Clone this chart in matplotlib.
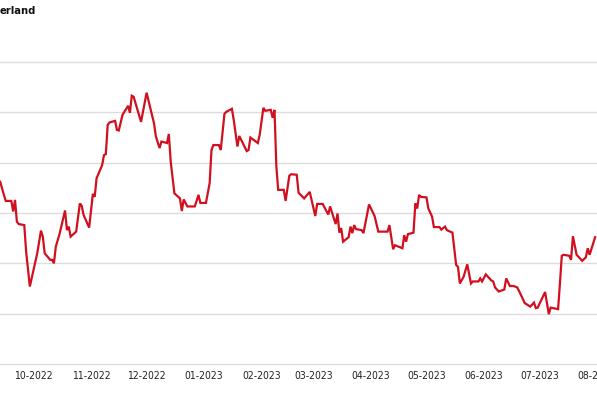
import matplotlib
matplotlib.use("Agg")
import matplotlib.pyplot as plt
import matplotlib.dates as mdates
import pandas as pd

# daily values (no y labels visible, gridlines at 0..6)
dates = [
    "2022-09-13", "2022-09-15", "2022-09-16", "2022-09-19", "2022-09-20", "2022-09-21",
    "2022-09-22", "2022-09-23", "2022-09-26", "2022-09-27", "2022-09-29",
    "2022-10-03", "2022-10-05", "2022-10-06", "2022-10-07", "2022-10-10", "2022-10-11",
    "2022-10-12", "2022-10-13", "2022-10-15", "2022-10-18", "2022-10-19", "2022-10-20",
    "2022-10-21", "2022-10-24", "2022-10-26", "2022-10-27", "2022-10-28", "2022-10-31",
    "2022-11-02", "2022-11-03", "2022-11-04", "2022-11-07", "2022-11-08", "2022-11-09",
    "2022-11-10", "2022-11-11", "2022-11-14", "2022-11-15", "2022-11-16", "2022-11-18",
    "2022-11-21", "2022-11-22", "2022-11-23", "2022-11-24", "2022-11-28",
    "2022-12-01", "2022-12-05", "2022-12-06", "2022-12-08", "2022-12-09", "2022-12-12",
    "2022-12-13", "2022-12-14", "2022-12-16", "2022-12-19", "2022-12-20", "2022-12-21",
    "2022-12-23", "2022-12-27", "2022-12-29", "2022-12-30",
    "2023-01-02", "2023-01-04", "2023-01-05", "2023-01-06", "2023-01-09", "2023-01-10",
    "2023-01-12", "2023-01-13", "2023-01-16", "2023-01-17", "2023-01-19", "2023-01-20",
    "2023-01-24", "2023-01-25", "2023-01-26", "2023-01-30", "2023-01-31",
    "2023-02-02", "2023-02-03", "2023-02-06", "2023-02-07", "2023-02-08", "2023-02-09",
    "2023-02-10", "2023-02-13", "2023-02-14", "2023-02-16", "2023-02-17", "2023-02-20",
    "2023-02-21", "2023-02-24", "2023-02-27",
    "2023-03-02", "2023-03-03", "2023-03-06", "2023-03-09", "2023-03-10", "2023-03-13",
    "2023-03-14", "2023-03-15", "2023-03-16", "2023-03-17", "2023-03-20", "2023-03-21",
    "2023-03-22", "2023-03-23", "2023-03-24", "2023-03-27", "2023-03-28", "2023-03-31",
    "2023-04-03", "2023-04-05", "2023-04-10", "2023-04-11", "2023-04-13", "2023-04-14",
    "2023-04-18", "2023-04-19", "2023-04-20", "2023-04-21", "2023-04-24", "2023-04-25",
    "2023-04-26", "2023-04-27", "2023-04-28",
    "2023-05-01", "2023-05-02", "2023-05-04", "2023-05-05", "2023-05-08", "2023-05-09",
    "2023-05-11", "2023-05-12", "2023-05-15", "2023-05-17", "2023-05-18", "2023-05-19",
    "2023-05-21", "2023-05-23", "2023-05-25", "2023-05-26", "2023-05-29", "2023-05-30",
    "2023-05-31",
    "2023-06-02", "2023-06-05", "2023-06-06", "2023-06-07", "2023-06-09", "2023-06-12",
    "2023-06-13", "2023-06-15", "2023-06-17", "2023-06-19", "2023-06-21", "2023-06-23",
    "2023-06-26", "2023-06-28", "2023-06-29", "2023-06-30",
    "2023-07-04", "2023-07-06", "2023-07-07", "2023-07-11", "2023-07-12", "2023-07-13",
    "2023-07-14", "2023-07-17", "2023-07-18", "2023-07-19", "2023-07-21", "2023-07-24",
    "2023-07-26", "2023-07-27", "2023-07-28", "2023-07-30", "2023-07-31",
]
values = [
    3.62, 3.36, 3.24, 3.24, 3.03, 3.26,
    2.83, 2.78, 2.76, 2.23, 1.54,
    2.20, 2.65, 2.53, 2.20, 2.07, 2.07,
    2.00, 2.33, 2.58, 3.05, 2.66, 2.73,
    2.53, 2.63, 3.19, 3.14, 2.96, 2.71,
    3.38, 3.32, 3.69, 3.95, 4.15, 4.17,
    4.75, 4.80, 4.83, 4.65, 4.64, 4.95,
    5.13, 4.99, 5.33, 5.31, 4.81,
    5.39, 4.78, 4.52, 4.29, 4.42, 4.39,
    4.57, 4.02, 3.39, 3.29, 3.04, 3.27,
    3.13, 3.13, 3.36, 3.20,
    3.20, 3.59, 4.25, 4.35, 4.35, 4.25,
    4.97, 5.01, 5.07, 4.85, 4.32, 4.53,
    4.23, 4.25, 4.50, 4.39, 4.55,
    5.09, 5.03, 5.05, 4.89, 5.05, 3.92,
    3.46, 3.46, 3.24, 3.74, 3.77, 3.76,
    3.40, 3.29, 3.42,
    2.94, 3.18, 3.18, 2.97, 3.13, 2.78,
    2.99, 2.61, 2.70, 2.43, 2.52, 2.73,
    2.60, 2.76, 2.68, 2.66, 2.60, 3.17,
    2.94, 2.63, 2.63, 2.76, 2.28, 2.36,
    2.30, 2.56, 2.43, 2.58, 2.61, 3.19,
    3.09, 3.36, 3.32,
    3.31, 3.09, 2.93, 2.72, 2.72, 2.67,
    2.73, 2.66, 2.61, 1.97, 1.93, 1.60,
    1.73, 1.98, 1.60, 1.64, 1.64, 1.70,
    1.64,
    1.78, 1.66, 1.64, 1.52, 1.44, 1.48,
    1.70, 1.55, 1.55, 1.52, 1.37, 1.21,
    1.14, 1.22, 1.11, 1.12,
    1.43, 0.99, 1.12, 1.09, 1.60, 2.15,
    2.17, 2.15, 2.07, 2.54, 2.17, 2.05,
    2.12, 2.30, 2.17, 2.40, 2.52,
]
month_ticks = ["2022-10-01", "2022-11-01", "2022-12-01", "2023-01-01", "2023-02-01",
               "2023-03-01", "2023-04-01", "2023-05-01", "2023-06-01", "2023-07-01",
               "2023-08-01"]
grid_levels = [0, 1, 2, 3, 4, 5, 6]
title = "erland"

x = pd.to_datetime(dates)

fig = plt.figure(figsize=(5.97, 3.98), dpi=100)
ax = fig.add_axes([0, 34 / 398, 1, 302 / 398])

ax.plot(x, values, color="#d0101f", linewidth=1.6, solid_joinstyle="miter", zorder=3)

for g in grid_levels:
    ax.axhline(g, color="#dcdcdc", linewidth=1.0, zorder=1, clip_on=False)

start = pd.Timestamp("2022-10-01")
ax.set_xlim(mdates.date2num(start - pd.Timedelta(days=18.1)),
            mdates.date2num(start + pd.Timedelta(days=303.2)))
ax.set_ylim(0, 6)

ticks = pd.to_datetime(month_ticks)
ax.set_xticks(ticks)
ax.set_xticklabels([t.strftime("%m-%Y") for t in ticks], family="DejaVu Sans",
                   fontstretch="condensed", fontsize=7.5, color="#222222")
ax.tick_params(axis="x", length=0, pad=5)
ax.set_yticks([])
for s in ax.spines.values():
    s.set_visible(False)

fig.text(0, 1 - 11 / 398, title, family="DejaVu Sans", fontstretch="condensed",
         fontweight="bold", fontsize=8, color="#111111", ha="left", va="center")

fig.savefig("out.png", dpi=100)
